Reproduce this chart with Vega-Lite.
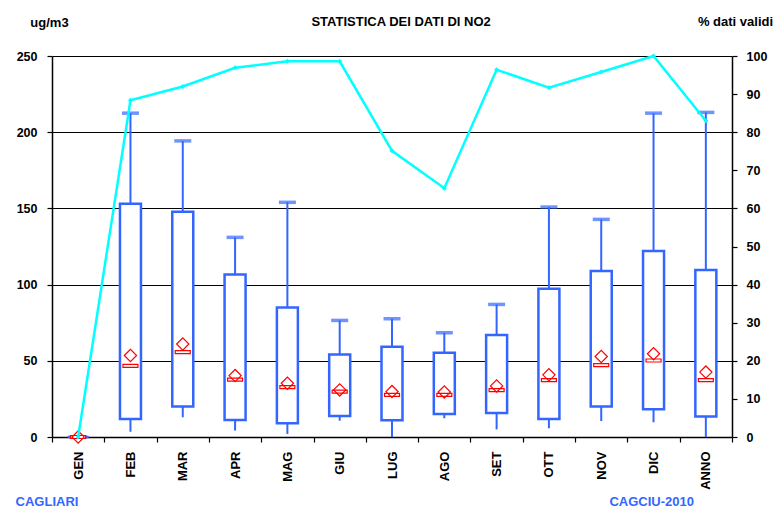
{
  "$schema": "https://vega.github.io/schema/vega-lite/v6.json",
  "width": 680,
  "height": 381,
  "autosize": {"type": "none"},
  "padding": {"left": 52, "top": 56, "right": 45, "bottom": 75},
  "background": "white",
  "title": {"text": "CAGCIU-2010", "orient": "bottom", "anchor": "end", "frame": "group", "offset": -13, "dx": -38, "color": "#3366FF", "fontSize": 13, "font": "Liberation Sans", "fontWeight": "bold"},
  "data": {"values": [
    {"m": "GEN", "min": 0, "q1": 0, "med": 0, "q3": 0, "max": 0, "mean": 0, "pct": 0},
    {"m": "FEB", "min": 3.5, "q1": 11.8, "med": 46.7, "q3": 153, "max": 212.5, "mean": 53.5, "pct": 88.4},
    {"m": "MAR", "min": 13, "q1": 20, "med": 55.7, "q3": 147.8, "max": 194.3, "mean": 61, "pct": 92},
    {"m": "APR", "min": 4.2, "q1": 11.2, "med": 37.7, "q3": 106.6, "max": 131, "mean": 40.3, "pct": 96.9},
    {"m": "MAG", "min": 2, "q1": 9, "med": 32.7, "q3": 85, "max": 154, "mean": 35.3, "pct": 98.6},
    {"m": "GIU", "min": 10.7, "q1": 13.8, "med": 29.8, "q3": 54.1, "max": 76.5, "mean": 30.9, "pct": 98.6},
    {"m": "LUG", "min": 0, "q1": 11, "med": 27.6, "q3": 59.2, "max": 77.6, "mean": 29.8, "pct": 75.1},
    {"m": "AGO", "min": 12.3, "q1": 15.1, "med": 27.6, "q3": 55.3, "max": 68.4, "mean": 29.5, "pct": 65.3},
    {"m": "SET", "min": 5, "q1": 15.8, "med": 30.7, "q3": 67, "max": 87, "mean": 33.5, "pct": 96.4},
    {"m": "OTT", "min": 5.7, "q1": 11.8, "med": 37.3, "q3": 97.2, "max": 150.9, "mean": 40.8, "pct": 91.7},
    {"m": "NOV", "min": 10.5, "q1": 20, "med": 47.2, "q3": 109, "max": 142.8, "mean": 52.8, "pct": 95.8},
    {"m": "DIC", "min": 9.7, "q1": 18.2, "med": 50.2, "q3": 122, "max": 212.5, "mean": 54.6, "pct": 100},
    {"m": "ANNO", "min": 0, "q1": 13.4, "med": 37.3, "q3": 109.6, "max": 213, "mean": 42.6, "pct": 83}
  ]},
  "layer": [
    {
      "encoding": {
        "x": {"field": "m", "type": "nominal", "sort": null,
              "scale": {"paddingInner": 0, "paddingOuter": 0},
              "axis": {"orient": "bottom", "title": "CAGLIARI", "titleX": -5.5, "titleY": 64.7, "titleAlign": "center", "titleBaseline": "middle", "titleColor": "#3366FF", "titleFontSize": 13,
                       "labelAngle": -90, "labelAlign": "right", "labelBaseline": "middle", "labelFontSize": 13, "labelPadding": 9, "tickBand": "extent", "tickSize": 5, "grid": false}}
      },
      "layer": [
        {"mark": {"type": "rule", "color": "#3366FF", "strokeWidth": 2},
         "encoding": {"y": {"field": "min", "type": "quantitative", "scale": {"domain": [0, 250]}, "axis": {"title": "ug/m3"}}, "y2": {"field": "max"}}},
        {"mark": {"type": "bar", "width": 21, "fill": "white", "stroke": "#3366FF", "strokeWidth": 2.5},
         "encoding": {"y": {"field": "q1", "type": "quantitative", "scale": {"domain": [0, 250]}, "axis": {"title": "ug/m3"}}, "y2": {"field": "q3"}}},
        {"mark": {"type": "tick", "color": "#3366FF", "size": 17, "thickness": 3.5},
         "encoding": {"y": {"field": "max", "type": "quantitative", "scale": {"domain": [0, 250]}, "axis": {"title": "ug/m3"}}}},
        {"mark": {"type": "tick", "fill": "white", "stroke": "#FF0000", "strokeWidth": 1.2, "size": 15, "thickness": 3, "opacity": 1, "fillOpacity": 1},
         "encoding": {"y": {"field": "med", "type": "quantitative", "scale": {"domain": [0, 250]}, "axis": {"title": "ug/m3"}}}},
        {"mark": {"type": "point", "shape": "diamond", "filled": false, "color": "#FF0000", "strokeWidth": 1.2, "size": 150, "opacity": 1},
         "encoding": {"y": {"field": "mean", "type": "quantitative", "scale": {"domain": [0, 250]}, "axis": {"title": "ug/m3"}}}}
      ]
    },
    {
      "encoding": {
        "x": {"field": "m", "type": "nominal", "sort": null,
              "scale": {"paddingInner": 0, "paddingOuter": 0},
              "axis": {"orient": "top", "title": "STATISTICA DEI DATI DI NO2", "labels": false, "ticks": false, "domain": false, "grid": false,
                       "titleX": 348.6, "titleY": -34.3, "titleAlign": "center", "titleBaseline": "middle", "titleFontSize": 13}},
        "y": {"field": "pct", "type": "quantitative", "scale": {"domain": [0, 100]},
              "axis": {"orient": "right", "title": "% dati validi", "titleX": 3, "titleY": -34.3, "tickCount": 10, "grid": false}}
      },
      "layer": [
        {"mark": {"type": "line", "color": "#00FFFF", "strokeWidth": 2.5,
                  "point": {"filled": true, "shape": "diamond", "size": 25, "color": "#00FFFF"}}}
      ]
    }
  ],
  "resolve": {"scale": {"y": "independent"}, "axis": {"x": "independent"}},
  "config": {
    "font": "Liberation Sans",
    "view": {"stroke": null},
    "axis": {
      "labelFont": "Liberation Sans", "labelFontWeight": "bold", "labelColor": "black", "labelFontSize": 12.5,
      "titleFont": "Liberation Sans", "titleFontWeight": "bold", "titleColor": "black", "titleFontSize": 13,
      "domainColor": "black", "domainWidth": 1.5, "tickColor": "black", "tickWidth": 1.2
    },
    "axisLeft": {"grid": true, "gridColor": "black", "gridWidth": 1, "gridOpacity": 1, "tickCount": 5, "tickSize": 5, "labelPadding": 10,
                 "titleAngle": 0, "titleX": -3, "titleY": -33.3, "titleAlign": "center", "titleBaseline": "middle"},
    "axisRight": {"tickSize": 5, "labelPadding": 9, "titleAngle": 0, "titleAlign": "center", "titleBaseline": "middle"}
  }
}
